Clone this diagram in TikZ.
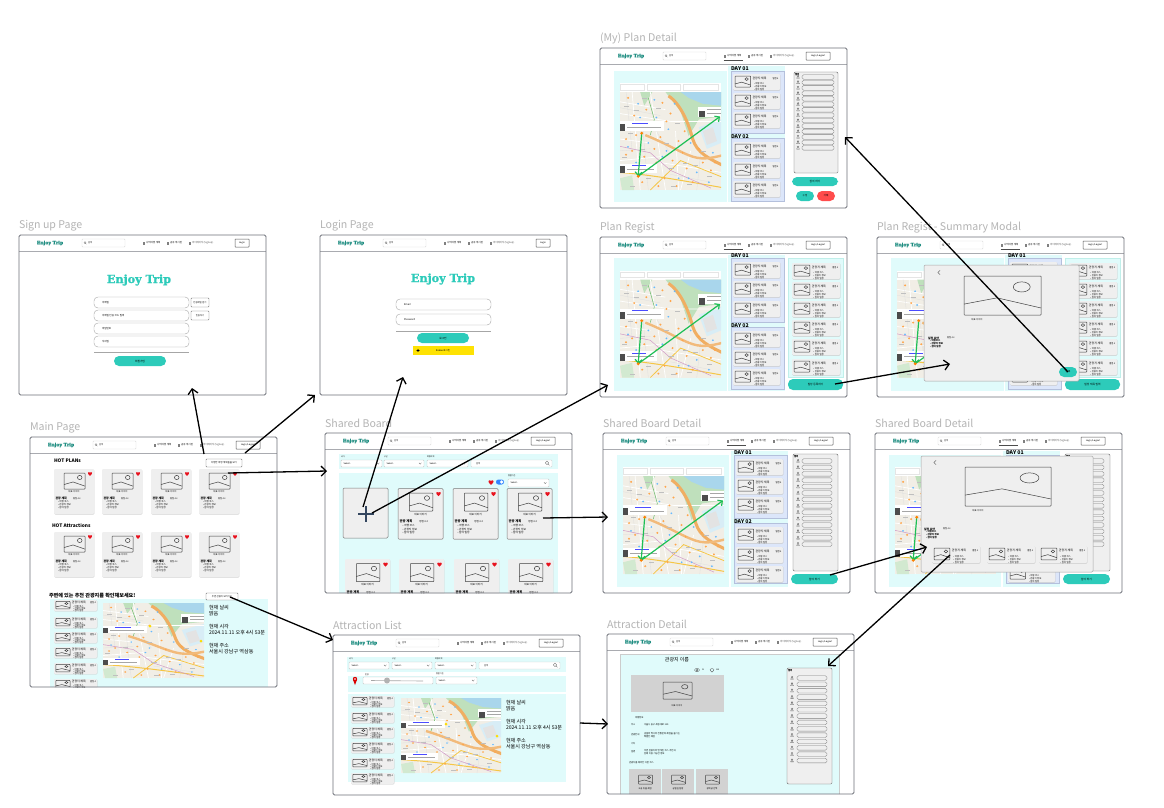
\documentclass[tikz,border=0pt]{standalone}
\usepackage{fontspec}
\setmainfont{Noto Sans CJK KR}
\newfontfamily\logofont{DejaVu Serif}[BoldFeatures={FakeBold=1.2}]
\usetikzlibrary{arrows.meta}
\definecolor{teal1}{HTML}{2DCBBA}
\definecolor{cyanp}{HTML}{E0FBFB}
\definecolor{lav}{HTML}{DCE6FA}
\definecolor{lavb}{HTML}{B4C0DC}
\definecolor{framec}{HTML}{6E7079}
\definecolor{hline}{HTML}{A9ABB0}
\definecolor{titlec}{HTML}{B4B4B4}
\definecolor{cardc}{HTML}{EFEFEF}
\definecolor{cardb}{HTML}{7A7A7A}
\definecolor{mapbg}{HTML}{F1EEE6}
\definecolor{mapwater}{HTML}{A9D6EC}
\definecolor{mapgreen}{HTML}{BFE0BC}
\definecolor{road}{HTML}{F0AE62}
\definecolor{grn}{HTML}{1DBF55}
\definecolor{heartc}{HTML}{E8121E}
\definecolor{plusc}{HTML}{34465F}
\tikzset{
  x=1pt,y=-1pt,
  tx/.style={inner sep=0pt,outer sep=0pt,anchor=west,align=left},
  cx/.style={inner sep=0pt,outer sep=0pt,anchor=center,align=center},
  framefill/.style={fill=white,rounded corners=1.5pt,inner sep=0pt,outer sep=0pt,anchor=north west},
  frameline/.style={draw=framec,line width=.8pt,rounded corners=1.5pt},
  conn/.style={draw=black,line width=1.3pt,-{Straight Barb[length=5pt,width=10pt,line width=1.3pt]}},
  garrow/.style={draw=grn,line width=1.2pt,-{Straight Barb[length=3.5pt,width=7pt,line width=1.2pt]}},
  box/.style={draw=#1,line width=.45pt,rounded corners=.8pt,fill=white},
  box/.default=gray!60,
  pill/.style={draw=gray!70,line width=.4pt,rounded corners=4pt,fill=white},
  tealbtn/.style={fill=teal1,rounded corners=5pt},
  pic/.style={draw=black!75,line width=.5pt,rounded corners=.6pt},
}
\newcommand\fs[1]{\fontsize{#1}{#1}\selectfont}
\newcommand\Txt[4]{\node[tx,font=\fs{#3}] at ({#1},{#2}) {#4};}
\newcommand\Ctr[4]{\node[cx,font=\fs{#3}] at ({#1},{#2}) {#4};}
\newcommand\Logo[4]{\node[cx,text=#4,font=\logofont\bfseries\fs{#3}] at (#1,#2) {Enjoy Trip};}
% image icon: x y w h
\newcommand\Pic[4]{\begin{scope}[shift={({#1},{#2})}]
  \draw[pic] (0,0) rectangle (#3,#4);
  \draw[pic,sharp corners] (0,{.72*#4}) -- ({.43*#3},{.56*#4}) -- (#3,{.82*#4});
  \draw[pic] ({.75*#3},{.28*#4}) ellipse ({.11*#3} and {.13*#4});
\end{scope}}
\newcommand\Heart[3]{\begin{scope}[shift={(#1,#2)},scale=#3]
  \fill[heartc] (0,.95) .. controls (-1.3,0) and (-.95,-.95) .. (0,-.4) .. controls (.95,-.95) and (1.3,0) .. (0,.95) -- cycle;
\end{scope}}
\newcommand\Person[2]{\begin{scope}[shift={({#1},{#2})}]
  \draw[gray!80!black,line width=.3pt] (0,-1) circle (.8);
  \draw[gray!80!black,line width=.3pt] (-1.5,1.3) -- (-.5,-.1) (1.5,1.3) -- (.5,-.1) (-1.5,1.3) -- (1.5,1.3);
\end{scope}}
% small list item: x y w h
\newcommand\Item[4]{\begin{scope}[shift={(#1,#2)},xscale=#3/47,yscale=#4/16]
  \fill[gray!45,rounded corners=1pt] (.3,.6) rectangle (47.4,16.5);
  \fill[cardc,rounded corners=1pt] (0,0) rectangle (47,16);
  \Pic{2}{2}{15.5}{11}
  \Txt{19.5}{4}{2.9}{관광지 제목}
  \Txt{39.5}{4.5}{2.2}{별점 4}
  \Txt{21}{10}{2.3}{• 여행 코스}
  \Txt{21}{13}{2.3}{• 관광지 정보}
  \Txt{21}{16}{2.3}{• 참여 일정}
\end{scope}}
% card: x y scale style
\newcommand\Card[4]{\begin{scope}[shift={(#1,#2)},scale=#3,transform shape]
  \fill[gray!35,rounded corners=1pt] (.3,.6) rectangle (40.3,45.5);
  \path[fill=cardc,rounded corners=1pt,#4] (0,0) rectangle (40,45);
  \Pic{10}{4}{21}{16}
  \Heart{36}{4.5}{2.4}
  \Ctr{20}{23}{2.3}{대표 이미지}
  \node[tx,font=\bfseries\fs{2.9}] at (1.5,29.5) {관광 계획};
  \Txt{19}{29.5}{2.2}{평점 4.2}
  \Txt{4}{33}{2.4}{• 여행 코스}
  \Txt{4}{36}{2.4}{• 관광지 정보}
  \Txt{4}{39}{2.4}{• 참여 일정}
\end{scope}}
% select: x0 y0 x1 y1 label
\newcommand\Sel[5]{
  \draw[box=gray!45] (#1,#2) rectangle (#3,#4);
  \Txt{#1+2.5}{(#2+#4)/2}{2.2}{Select..}
  \draw[gray!80!black,line width=.3pt] (#3-5,{(#2+#4)/2-.7}) -- (#3-3.8,{(#2+#4)/2+.6}) -- (#3-2.6,{(#2+#4)/2-.7});
  \Txt{#1}{#2-3}{2}{#5}
}
\newcommand\Searchb[4]{
  \draw[box=gray!35] (#1,#2) rectangle (#3,#4);
  \Txt{#1+5}{(#2+#4)/2}{2.2}{검색}
}
% header: login box path, active nav underline (0/1)
\newcommand\Header[2]{
  \draw[hline,line width=.8pt] (0,16) -- (247,16);
  \Logo{31}{8}{4.6}{teal1!70!black}
  \draw[box=gray!30] (63,4) rectangle (106,12);
  \draw[gray,line width=.25pt] (66,7.6) circle (1) (66.7,8.4) -- (67.5,9.2);
  \Txt{69}{8}{2.2}{검색}
  \draw[gray,line width=.2pt] (124,7.2) rectangle (125.5,8.7) (148,7.2) rectangle (149.5,8.7) (170,7.2) rectangle (171.5,8.7);
  \Txt{127}{8}{2.5}{나의여행 계획}
  \Txt{151}{8}{2.5}{공유 게시판}
  \Txt{173}{8}{2.5}{\textcolor{black!65}{마이페이지(Signup)}}
  \ifnum#2=1 \draw[black!70,line width=.4pt] (123.5,12) -- (143,12); \fi
  \draw[draw=black!65,line width=.5pt,rounded corners=.5pt,fill=white] (#1);
}
% screen: id x y h title loginbox-x0 logintext active content
\newcommand\Screen[9]{\begin{scope}[shift={(#2,#3)}]
  \node (#1title) [tx,text=titlec,font=\fs{10.6}] at (0,-9.5) {#5};
  \node (#1) [framefill,minimum width=247pt,minimum height=#4pt] at (0,0) {};
  \begin{scope}
    \clip[rounded corners=1.5pt] (0,0) rectangle (247,#4);
    \Header{#6,4) rectangle (230,12}{#8}
    \Ctr{(#6+230)/2}{8}{2.3}{#7}
    #9
  \end{scope}
  \draw[frameline] (0,0) rectangle (247,#4);
\end{scope}}
\newcommand\Rule[2]{\draw[gray!70,line width=.4pt] (#1,#2) -- ++(95,0);}
\newcommand\Field[4]{\draw[pill] (#1,#2) rectangle ++(#3,11); \Txt{#1+8}{#2+5.5}{2.5}{#4}}
% Map
\newcommand\MapBase[4]{\begin{scope}[shift={(#1,#2)},xscale=#3/100,yscale=#4/100]
  \clip (0,0) rectangle (100,100);
  \fill[mapbg] (0,0) rectangle (100,100);
  \fill[mapgreen] (45,0) -- (100,0) -- (100,25) -- (78,28) -- (68,45) -- (60,20) -- cycle;
  \fill[mapwater] (60,0) -- (100,0) -- (100,14) -- (82,12) -- (68,6) -- cycle;
  \fill[mapwater!45] (78,36) -- (100,28) -- (100,52) -- (86,58) -- cycle;
  \fill[gray!22] (82,40) -- (92,36) -- (96,50) -- (86,54) -- cycle;
  \fill[mapgreen!70] (0,88) -- (12,85) -- (14,100) -- (2,100) -- cycle;
  \fill[mapgreen] (20,0) -- (32,0) -- (24,14) -- cycle;
  \draw[white,line width=.7pt] (0,10) -- (45,18) (0,22) -- (50,30) -- (100,30) (12,0) -- (20,100) (30,0) -- (45,100) (70,60) -- (60,100) (0,70) -- (40,66) (0,48) -- (30,52) (40,72) -- (100,82) (55,40) -- (58,100);
  \draw[gray!25,line width=.3pt] (0,16) -- (40,24) (6,0) -- (12,60) (22,30) -- (28,100) (36,40) -- (48,60) (0,60) -- (30,58) (50,84) -- (90,92) (80,62) -- (76,100);
  \draw[road,line width=3pt] (48,4) .. controls (60,12) and (68,32) .. (72,48) .. controls (76,62) and (88,68) .. (104,76);
  \draw[road!85!white,line width=2.4pt] (25,44) .. controls (45,52) and (60,62) .. (72,66) .. controls (84,70) and (95,66) .. (104,64);
  \draw[road!70!yellow,line width=1pt] (-2,82) .. controls (30,84) and (70,92) .. (104,98);
  \draw[road!70!yellow,line width=.8pt] (30,100) -- (60,70) -- (104,88);
  \draw[blue!45!red!40,line width=.5pt] (-2,55) -- (30,62) -- (50,80) -- (90,98);
  \draw[green!55!black!60,line width=.5pt] (28,6) -- (34,28) -- (30,44);
  \foreach \a/\b in {8/6,26/18,42/11,14/24,50/22,6/48,40/46,58/50,34/58,52/70,66/78,22/92,44/88,72/92,90/80,12/60,62/62,36/72,82/72,30/34,16/44,46/30,64/40,24/66,56/96,78/58,94/72,6/64,38/96}
    \fill[orange!70] (\a,\b) circle (1.1);
  \foreach \a/\b in {18/12,36/26,48/38,10/32,28/52,58/88,76/82,92/62,70/52,46/60,88/92,16/72,34/8,54/12,20/26,8/56,42/66,68/88}
    \fill[blue!45!cyan!60] (\a,\b) circle (1);
  \foreach \a/\b in {4/14,22/6,38/36,54/32,32/80,80/60,66/94,10/96,50/96,14/18,36/16,8/42,44/52,20/58,62/72,48/78,72/74,86/86,26/88,2/66}
    \fill[gray!50] (\a,\b) rectangle +(5,.8);
  \fill[white] (0,30) rectangle (44,40);
  \fill[black!70] (0,33) rectangle (5,40);
  \fill[blue!70!white] (12,31.5) rectangle (28,32.4);
  \fill[gray!70] (7,35.5) rectangle (41,36.3);
  \fill[white] (0,73) rectangle (37,83);
  \fill[black!70] (0,76) rectangle (5,83);
  \fill[blue!70!white] (12,74.5) rectangle (26,75.4);
  \fill[gray!70] (7,78.5) rectangle (34,79.3);
  \fill[white] (77,15) rectangle (100,25);
  \fill[black!70] (78,19) rectangle (84,26);
  \fill[gray!70] (86,17) rectangle (100,17.9);
  \fill[gray!70] (86,21) rectangle (100,21.9);
\end{scope}}
% plan map: strip + map + green arrows, y = top of strip
\newcommand\PlanMap[1]{
  \fill[white] (20,#1) rectangle (121,#1+9);
  \draw[gray!20,line width=.3pt] (20.5,#1+1.5) rectangle (44,#1+7) (47,#1+1.5) rectangle (80,#1+7) (83,#1+1.5) rectangle (118,#1+7);
  \MapBase{20}{#1+9}{101}{98}
  \begin{scope}[shift={(20,#1+9)},xscale=1.01,yscale=.98]
    \coordinate (ga) at (21.5,42); \coordinate (gb) at (18,86); \coordinate (gc) at (99,25);
    \draw[garrow] (ga) -- (gb);
    \draw[garrow] (gb) -- (gc);
    \fill[orange] (ga) circle (1.6);
    \fill[orange] (gb) circle (1.6);
  \end{scope}
}
% group of day cards
\newcommand\Days[6]{
  \fill[cyanp] (128,18) rectangle (185,154);
  \path[fill=lav,draw=lavb,line width=.4pt] (131,#1) rectangle (184,#2);
  \path[fill=lav,draw=lavb,line width=.4pt] (131,#3) rectangle (184,#4);
  \node[tx,font=\bfseries\fs{5.2}] at (131,#1-2) {DAY 01};
  \node[tx,font=\bfseries\fs{5.2}] at (131,#3-1) {DAY 02};
  \foreach \b in {#5} {\Item{133}{\b}{47}{16}}
  \foreach \b in {#6} {\Item{133}{\b}{47}{16}}
}
% members panel: x0 y0 x1 y1 rowx0 rowx1 ystart step personx
\newcommand\Members[9]{
  \path[fill=cardc,draw=gray!80!black,line width=.45pt,rounded corners=1.2pt] (#1,#2) rectangle (#3,#4);
  \node[tx,font=\bfseries\fs{2.4}] at (#1+1,#2+2.5) {멤버};
  \foreach \i in {0,...,13} {
    \draw[draw=black!50,line width=.35pt,rounded corners=1.6pt,fill=cardc] (#5,#7+#8*\i-2.3) rectangle (#6,#7+#8*\i+2.3);
    \Person{#9}{#7+#8*\i}
  }
}
\newcommand\Weather[7]{
  \Txt{#1}{#2}{5.1}{현재 날씨}
  \Txt{#1}{#3}{5.1}{맑음}
  \Txt{#1}{#4}{5.1}{현재 시각}
  \Txt{#1}{#5}{5.1}{2024.11.11 오후 4시 53분}
  \Txt{#1}{#6}{5.1}{현재 주소}
  \Txt{#1}{#7}{5.1}{서울시 강남구 역삼동}
}
\newcommand\RegistBody[1]{
  \fill[cyanp] (14,21) rectangle (127,154);
  \PlanMap{33.5}
  \Days{21}{85}{90}{152}{25,44,64}{94,113,132}
  \path[fill=cyanp,draw=teal1!30,line width=.3pt] (188,21) rectangle (243,140);
  \foreach \b in {26,45,64,83,102,122} {\Item{192}{\b}{48}{16}}
  \fill[tealbtn] (188,142) rectangle (243,153);
  \Ctr{215.5}{147.5}{2.7}{#1}
}
\newcommand\DetailBody{
  \fill[cyanp] (14,22) rectangle (126,154);
  \PlanMap{34}
  \Days{22}{85}{90}{150}{26,45,64}{94,114,133}
  \Members{190}{21}{235}{138}{199}{229}{28}{6.4}{195}
  \fill[tealbtn] (188,141) rectangle (235,151);
  \Ctr{211.5}{146}{2.7}{참여 하기}
}
\begin{document}
\begin{tikzpicture}
\useasboundingbox (0,0) rectangle (1164,807);
\fill[white] (0,0) rectangle (1164,807);

% ---------- Sign up
\Screen{signup}{19}{235}{160}{Sign up Page}{216}{Login}{0}{
  \Logo{120}{45}{11.2}{teal1}
  \Field{75}{62}{95}{이메일}
  \Field{75}{75}{95}{이메일 인증 코드 입력}
  \Field{75}{88}{95}{비밀번호}
  \Field{75}{101}{95}{닉네임}
  \draw[box=black!55] (172,63) rectangle (190,72); \Ctr{181}{67.5}{2.3}{인증메일 받기}
  \draw[box=black!55] (172,76) rectangle (190,85); \Ctr{181}{80.5}{2.3}{인증하기}
  \Rule{75}{117}
  \fill[tealbtn] (95,121) rectangle (147,131);
  \Ctr{121}{126}{2.7}{회원가입}
}

% ---------- Login
\Screen{login}{320}{235}{160}{Login Page}{216}{Login}{0}{
  \Logo{123}{44}{11.2}{teal1}
  \Field{76}{64}{95}{Email}
  \Field{76}{79}{95}{Password}
  \Rule{76}{96}
  \fill[tealbtn] (97,98) rectangle (149,108);
  \Ctr{123}{103}{2.7}{로그인}
  \fill[yellow!85!orange] (93,111) rectangle (154,120);
  \fill[black] (98,115.5) ellipse (1.6 and 1.2);
  \Ctr{123}{115.5}{2.4}{Kakao 로그인}
}

% ---------- Main
\Screen{main}{30}{437}{250}{Main Page}{206}{Login/Logout}{0}{
  \node[tx,font=\bfseries\fs{4.8}] at (24,24) {HOT PLANs};
  \draw[box=black!55] (176,22) rectangle (212,30); \Ctr{194}{26}{2.4}{다양한 여행 계획들을 보기}
  \foreach \a in {24,72,121,169} {\Card{\a}{32}{1}{}}
  \node[tx,font=\bfseries\fs{4.8}] at (22,89) {HOT Attractions};
  \foreach \a in {24,72,121,169} {\Card{\a}{95}{1}{}}
  \node[tx,font=\bfseries\fs{5.1}] at (19,159) {주변에 있는 추천 관광지를 확인해보세요!};
  \fill[cyanp] (20,162) rectangle (238,250);
  \draw[box=black!55] (176,156) rectangle (208,163); \Ctr{192}{159.5}{2.3}{주변 관광지 보러가기}
  \foreach \b in {163,180,195,210,226,242} {\Item{24}{\b}{43}{11}}
  \MapBase{73}{166}{101}{75}
  \fill[yellow!80!orange] (120,189) circle (1.5);
  \fill[yellow!80!orange] (171,204) circle (1.5);
  \Weather{179}{171}{177}{190}{196}{209}{215}
}

% ---------- Shared Board
\Screen{board}{325}{433}{160}{Shared Board}{206}{Login/Logout}{0}{
  \fill[cyanp] (14,21) rectangle (233,36);
  \Sel{16}{27}{57}{34}{국가}
  \Sel{59}{27}{99}{34}{구군}
  \Sel{102}{27}{143}{34}{여행지역}
  \Searchb{146}{27}{227}{34}
  \draw[gray!90!black,line width=.35pt] (222,29.8) circle (1.7) (223.2,31) -- (224.5,32.3);
  \fill[cyanp] (14,40) rectangle (233,160);
  \Heart{166}{49}{3}
  \fill[blue!60!cyan!80,rounded corners=2.4pt] (171,46.5) rectangle (179,51.5);
  \fill[white] (176.6,49) circle (1.8);
  \Sel{183}{46}{224}{54}{정렬기준}
  \path[fill=cardc,draw=cardb,line width=.5pt,rounded corners=1.2pt] (18,55) rectangle (63,105);
  \draw[draw=plusc,line width=1.4pt] (41,73) -- (41,89) (33,81) -- (49,81);
  \foreach \a in {73,128,182} {\Card{\a}{55.5}{1.125}{draw=cardb,line width=.5pt}}
  \foreach \a in {20,74,129,183} {\Card{\a}{126}{1.125}{}}
}

% ---------- Attraction List
\Screen{alist}{333}{635}{160}{Attraction List}{206}{Login/Logout}{0}{
  \fill[cyanp] (14,22) rectangle (233,37);
  \Sel{16}{27}{56}{34}{국가}
  \Sel{59}{27}{99}{34}{구군}
  \Sel{102}{27}{143}{34}{여행지역}
  \Searchb{146}{27}{227}{34}
  \draw[gray!90!black,line width=.35pt] (222,29.8) circle (1.7) (223.2,31) -- (224.5,32.3);
  \fill[cyanp] (15,41) rectangle (233,57);
  \fill[red!85!black] (22,44) circle (2.2);
  \fill[red!85!black] (20.2,45.2) -- (22,50) -- (23.8,45.2) -- cycle;
  \fill[white] (22,44) circle (.9);
  \draw[box=gray!45] (30,42) rectangle (100,49);
  \draw[gray!70,line width=.6pt] (38,45.5) -- (90,46);
  \fill[gray!60] (54,45.5) circle (3);
  \Txt{32}{39.5}{2}{반경}
  \Sel{103}{42}{144}{49}{정렬 기준}
  \fill[cyanp] (15,59) rectangle (233,147);
  \foreach \b in {61,77,92,107,123,138} {\Item{18}{\b}{43}{11}}
  \MapBase{68}{63}{100}{75}
  \fill[yellow!80!orange] (113,89) circle (1.5);
  \fill[yellow!80!orange] (164,101) circle (1.5);
  \Weather{173}{68}{74}{87}{93}{106}{112}
}

% ---------- Attraction Detail
\Screen{adetail}{607}{634}{160}{Attraction Detail}{206}{Login/Logout}{0}{
  \path[fill=cyanp,draw=gray!40,line width=.3pt] (13,20) rectangle (232,165);
  \node[cx,font=\fs{5}] at (70,26) {관광지 이름};
  \draw[black!70,line width=.3pt] (90,36) ellipse (2.4 and 1.6) (90,36) circle (.8);
  \Txt{95}{36}{2}{51}
  \draw[black!70,line width=.3pt] (105,34.6) .. controls (103,33.6) and (102,36) .. (105,38.2) .. controls (108,36) and (107,33.6) .. (105,34.6);
  \Txt{109}{36}{2}{120}
  \fill[gray!35] (24,41) rectangle (117,78);
  \Pic{56}{48}{29}{17}
  \Ctr{70}{72}{2.2}{대표 이미지}
  \Txt{28}{84}{2.3}{여행정보}
  \Txt{24}{91}{2.3}{주소}
  \Txt{37}{91}{2.3}{서울시 중구 세종대로 110}
  \Txt{24}{101}{2.3}{관광안내}
  \Txt{37}{100}{2.3}{궁궐의 역사와 전통문화 체험을 즐기는}
  \Txt{37}{103}{2.3}{특별한 체험}
  \Txt{24}{110}{2.3}{기타}
  \Txt{24}{118}{2.3}{설명}
  \Txt{37}{117}{2.3}{주변 관광지와 연계된 코스 추천과}
  \Txt{37}{120}{2.3}{함께 이용 가능한 정보}
  \Txt{22}{129}{2.3}{관광지를 제외한 다른 코스}
  \foreach \a/\lab in {22/고궁 유물 체험,55/궁궐길 탐방,89/경복궁 산책} {
    \fill[gray!35] (\a,135) rectangle ++(32,30);
    \Pic{\a+9.5}{141}{14}{9}
    \Ctr{\a+16}{155}{2.2}{\lab}
  }
  \Members{180}{34}{225}{150}{190}{220}{44}{6.35}{185}
}

% ---------- My Plan Detail
\Screen{myplan}{600}{48}{160}{(My) Plan Detail}{206}{Login/Logout}{1}{
  \fill[cyanp] (14,23) rectangle (127,154);
  \PlanMap{35}
  \Days{23}{85}{90}{153}{26,45,64}{94,114,133}
  \Members{194}{24}{238}{125}{202}{234}{29}{5.45}{198}
  \fill[tealbtn] (192,129) rectangle (238,138);
  \Ctr{215}{133.5}{2.7}{참여 하기}
  \fill[tealbtn] (196,143) rectangle (214,153);
  \Ctr{205}{148}{2.5}{수정}
  \fill[red!70!white,rounded corners=5pt] (217,143) rectangle (235,153);
  \Ctr{226}{148}{2.5}{삭제}
}

% ---------- Plan Regist
\Screen{regist}{600}{237}{160}{Plan Regist}{206}{Login/Logout}{1}{
  \RegistBody{일정 등록하기}
}

% ---------- Plan Regist - Summary Modal
\Screen{summary}{877}{237}{160}{Plan Regist - Summary Modal}{206}{Login/Logout}{1}{
  \RegistBody{일정 제목 입력}
  \path[fill=cardc,draw=gray!70,line width=.5pt,rounded corners=1.2pt] (47,28) rectangle (202,144);
  \draw[black!70,line width=.4pt] (63,33.5) -- (60.8,35.5) -- (63,37.5);
  \Pic{87}{39}{77}{39}
  \Ctr{100}{83}{2.3}{대표 이미지}
  \node[tx,font=\bfseries\fs{2.8}] at (51,101) {일정 요약};
  \Txt{70}{101}{2.2}{평점 4.2}
  \node[tx,font=\bfseries\fs{2.4}] at (53,104) {• 여행코스};
  \node[tx,font=\bfseries\fs{2.4}] at (53,107) {• 관광지 정보};
  \node[tx,font=\bfseries\fs{2.4}] at (53,110) {• 참여 일정};
  \fill[tealbtn] (182,130) rectangle (200,140);
  \Ctr{191}{135}{2.5}{등록}
}

% ---------- Shared Board Detail 1
\Screen{sdetail}{603}{433}{160}{Shared Board Detail}{206}{Login/Logout}{1}{
  \DetailBody
}

% ---------- Shared Board Detail 2
\Screen{sdetailb}{875}{433}{160}{Shared Board Detail}{206}{Login/Logout}{1}{
  \DetailBody
  \path[fill=cardc,draw=gray!70,line width=.5pt,rounded corners=1.2pt] (46,23) rectangle (218,139);
  \draw[black!70,line width=.4pt] (61,27.5) -- (58.8,29.5) -- (61,31.5);
  \Pic{90}{34}{86}{39}
  \Ctr{103}{78}{2.3}{대표 이미지}
  \node[tx,font=\bfseries\fs{2.8}] at (49,96) {일정 요약};
  \Txt{68}{96}{2.2}{평점 4.2}
  \node[tx,font=\bfseries\fs{2.4}] at (51,99) {• 여행코스};
  \node[tx,font=\bfseries\fs{2.4}] at (51,102) {• 관광지 정보};
  \node[tx,font=\bfseries\fs{2.4}] at (51,105) {• 참여 일정};
  \foreach \a in {57,112,164} {\Item{\a}{113}{48}{17}}
}

% ---------- connectors
\coordinate (mainBtnA) at (204,454);
\coordinate (signupIn) at (192,388);
\coordinate (mainBtnB) at (245,453);
\coordinate (loginCorner) at (315,395);
\coordinate (mainCard) at (228,473);
\coordinate (boardIn) at (327,471);
\coordinate (mainNear) at (230,597);
\coordinate (alistIn) at (333,640);
\coordinate (boardAddA) at (363,507);
\coordinate (loginIn) at (403,377);
\coordinate (boardAddB) at (372,513);
\coordinate (registIn) at (608,385);
\coordinate (boardCard) at (543,518);
\coordinate (sdetailIn) at (608,517);
\coordinate (alistOut) at (580,723);
\coordinate (adetailIn) at (608,724);
\coordinate (registBtn) at (835,384);
\coordinate (summaryIn) at (950,364);
\coordinate (summaryBtn) at (1068,372);
\coordinate (myplanIn) at (845,137);
\coordinate (sdetailBtn) at (830,575);
\coordinate (sdetailbIn) at (927,547);
\coordinate (sdetailbItem) at (950,555);
\coordinate (adetailMembers) at (828,666);
\draw[conn] (mainBtnA) -- (signupIn);
\draw[conn] (mainBtnB) -- (loginCorner);
\draw[conn] (mainCard) -- (boardIn);
\draw[conn] (mainNear) -- (alistIn);
\draw[conn] (boardAddA) -- (loginIn);
\draw[conn] (boardAddB) -- (registIn);
\draw[conn] (boardCard) -- (sdetailIn);
\draw[conn] (alistOut) -- (adetailIn);
\draw[conn] (registBtn) -- (summaryIn);
\draw[conn] (summaryBtn) -- (myplanIn);
\draw[conn] (sdetailBtn) -- (sdetailbIn);
\draw[conn] (sdetailbItem) -- (adetailMembers);
\end{tikzpicture}
\end{document}
